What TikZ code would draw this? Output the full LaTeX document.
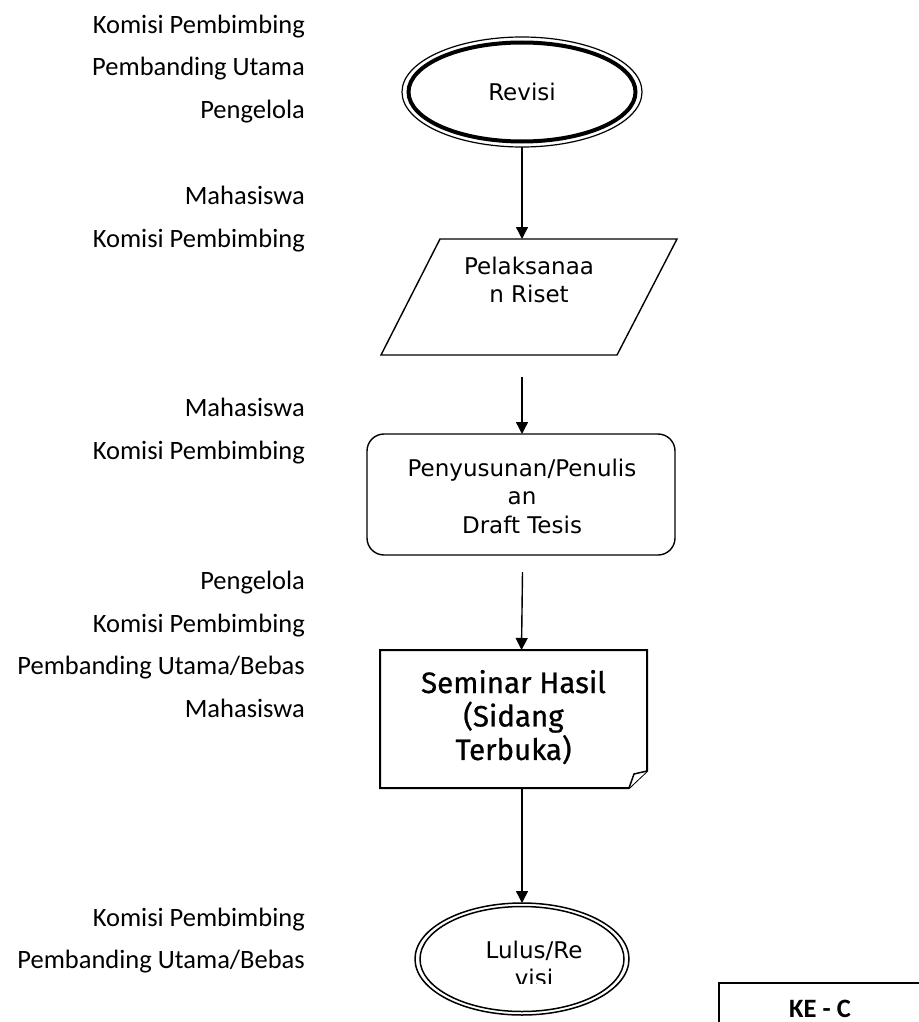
\documentclass[tikz,border=0pt]{standalone}
\usepackage{fontspec}
\setmainfont{DejaVu Sans}
\newfontfamily\labfont{Carlito}
\newfontfamily\verfont{DejaVu Sans}
\newfontfamily\semfont[FakeBold=0.8]{Fira Sans}
\usetikzlibrary{arrows.meta,shapes.geometric}
\begin{document}
\begin{tikzpicture}[x=1pt,y=-1pt,
  lab/.style={anchor=base east,inner sep=0,font=\labfont\fontsize{26.5}{31}\selectfont},
  vtext/.style={anchor=base,inner sep=0,font=\verfont\fontsize{23}{28.7}\selectfont},
  semtext/.style={anchor=base,inner sep=0,font=\semfont\fontsize{29.5}{28.5}\selectfont},
  arr/.style={line width=1.4,-{Triangle[length=12,width=12]}},
  thin/.style={line width=1.4},
  ]
\useasboundingbox (0,0) rectangle (918,1022);

% left role labels
\node[lab] (l1) at (305,34) {Komisi Pembimbing};
\node[lab] (l2) at (305,76) {Pembanding Utama};
\node[lab] (l3) at (305,118) {Pengelola};
\node[lab] (l4) at (305,204) {Mahasiswa};
\node[lab] (l5) at (305,247) {Komisi Pembimbing};
\node[lab] (l6) at (305,416) {Mahasiswa};
\node[lab] (l7) at (305,459) {Komisi Pembimbing};
\node[lab] (l8) at (305,589) {Pengelola};
\node[lab] (l9) at (305,632) {Komisi Pembimbing};
\node[lab] (l10) at (305,674) {Pembanding Utama/Bebas};
\node[lab] (l11) at (305,717) {Mahasiswa};
\node[lab] (l12) at (305,926) {Komisi Pembimbing};
\node[lab] (l13) at (305,968) {Pembanding Utama/Bebas};

% Revisi terminator
\node[ellipse,draw,line width=1.2,minimum width=240,minimum height=110,inner sep=0,outer sep=0] (revouter) at (522,92) {};
\node[ellipse,draw,line width=4,minimum width=227,minimum height=99,inner sep=0,outer sep=0,
      font=\verfont\fontsize{23}{28.7}\selectfont] (revisi) at (522,92) {Revisi};

% Pelaksanaan Riset (parallelogram)
\coordinate (p1) at (440,239);
\coordinate (p2) at (677,239);
\coordinate (p3) at (617,355);
\coordinate (p4) at (381,355);
\draw[thin] (p1) -- (p2) -- (p3) -- (p4) -- cycle;
\coordinate (partop) at (522,239);
\coordinate (parbot) at (522,377);
\node[vtext] (riset) at (529,274) {\begin{tabular}[t]{@{}c@{}}Pelaksanaa\\n Riset\end{tabular}};

% Penyusunan draft (rounded rectangle)
\node[draw,thin,rounded corners=17,minimum width=308,minimum height=121,inner sep=0,outer sep=0] (draft) at (521,494.5) {};
\node[vtext] (drafttext) at (522,476) {\begin{tabular}[t]{@{}c@{}}Penyusunan/Penulis\\an\\Draft Tesis\end{tabular}};

% Seminar Hasil (document)
\draw[line width=2] (380,650) -- (647,650) -- (647,771) -- (629,788) -- (380,788) -- cycle;
\draw[line width=1.5,fill=white] (629,788) -- (634,774) .. controls (640,772) .. (647,771);
\coordinate (draftbot) at (522.5,572);
\coordinate (doctop) at (521.5,650);
\coordinate (docbot) at (522,788);
\node[semtext] (seminar) at (513.5,693) {\begin{tabular}[t]{@{}c@{}}Seminar Hasil\\(Sidang\\Terbuka)\end{tabular}};

% Lulus/Revisi terminator
\node[ellipse,draw,line width=1.5,minimum width=214,minimum height=112,inner sep=0,outer sep=0] (lulus) at (522,959) {};
\node[ellipse,draw,line width=1.5,minimum width=204,minimum height=105,inner sep=0,outer sep=0] (lulusin) at (522,959) {};
\begin{scope}
  \clip (400,900) rectangle (660,983);
  \node[vtext] (lulustext) at (534,958) {\begin{tabular}[t]{@{}c@{}}Lulus/Re\\visi\end{tabular}};
\end{scope}

% connectors
\draw[arr] (revouter.south) -- (partop);
\draw[arr] (parbot) -- (parbot |- draft.north);
\draw[arr] (draftbot) -- (doctop);
\draw[arr] (docbot) -- (lulus.north);

% KE - C box
\coordinate (k1) at (719,1030);
\coordinate (k2) at (719,983);
\coordinate (k3) at (925,983);
\draw[line width=2] (k1) -- (k2) -- (k3);
\node[anchor=base,inner sep=0,font=\labfont\bfseries\fontsize{26.5}{31}\selectfont] (kec) at (820,1017) {KE - C};
\end{tikzpicture}
\end{document}
